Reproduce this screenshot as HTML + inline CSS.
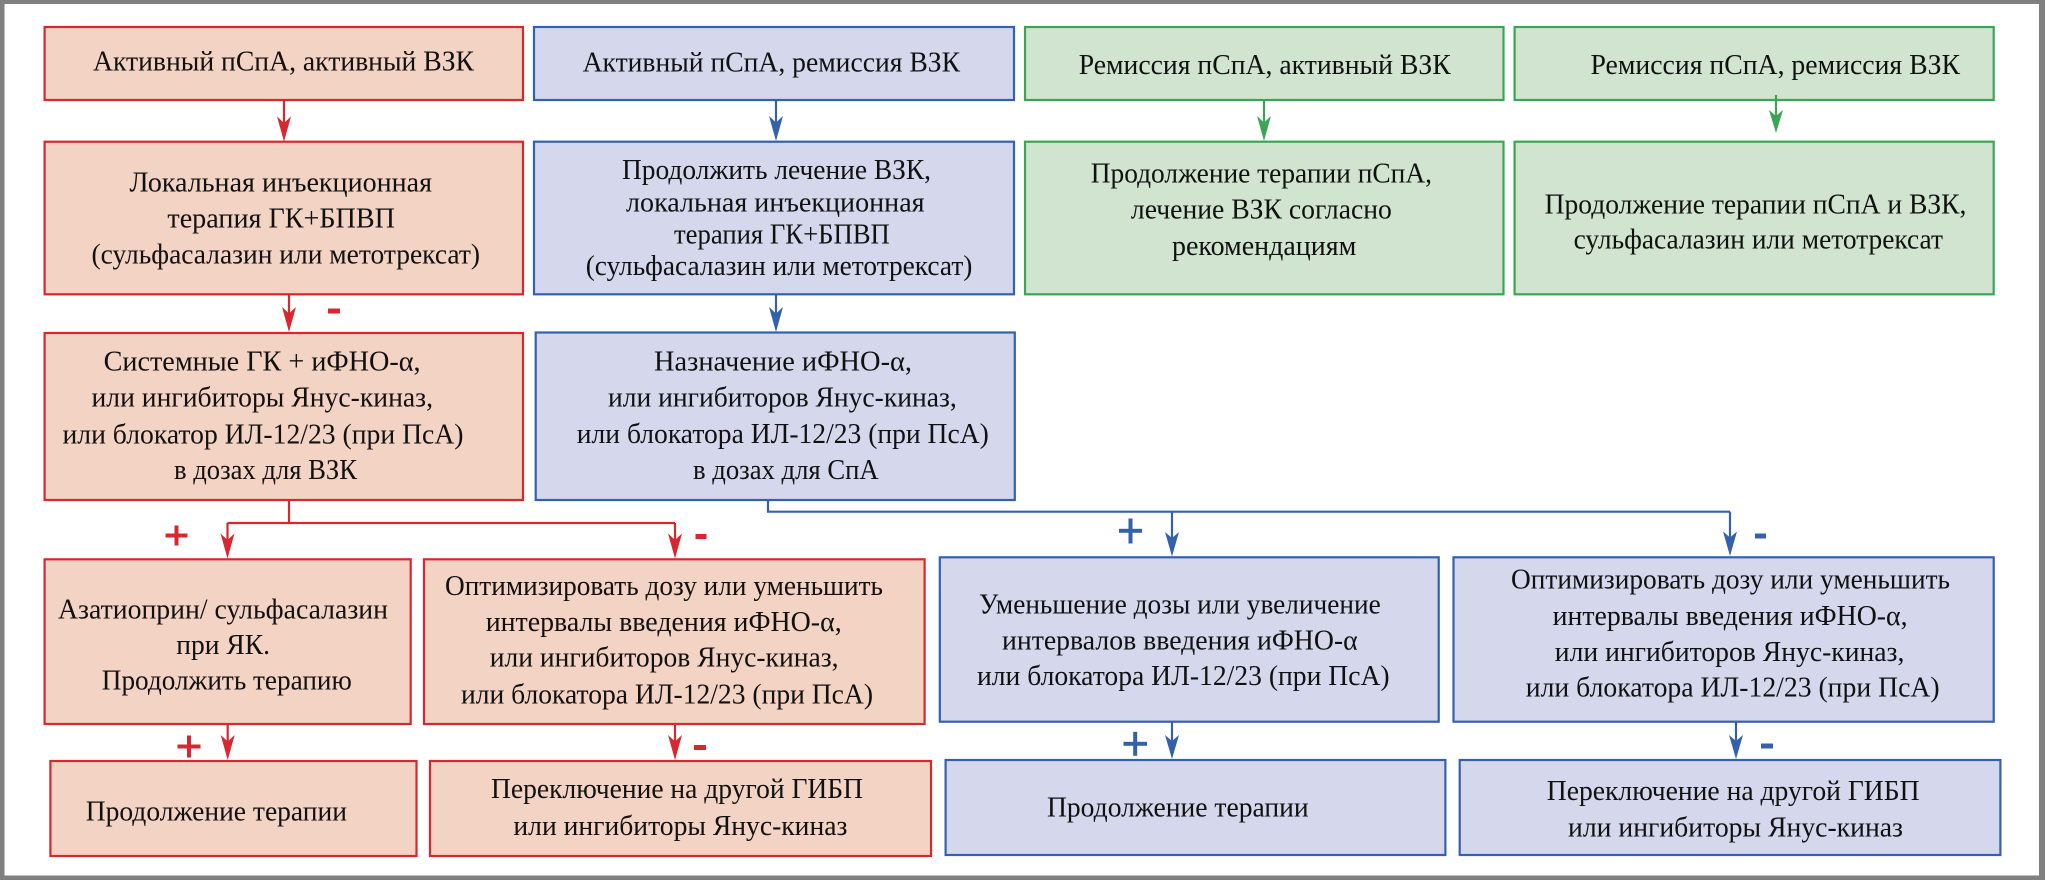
<!DOCTYPE html>
<html>
<head>
<meta charset="utf-8">
<style>
html,body{margin:0;padding:0;background:#fff;}
svg{display:block;}
svg text{font-family:"Liberation Serif","Noto Serif CJK SC",serif;font-size:29px;fill:#111;}
</style>
</head>
<body>
<svg width="2045" height="880" viewBox="0 0 2045 880" xmlns="http://www.w3.org/2000/svg">
  <rect x="0" y="0" width="2045" height="880" fill="#808080"/>
  <rect x="4.5" y="4" width="2034.5" height="871.5" fill="#ffffff"/>

  <!-- Row 1 -->
  <g stroke-width="2.2">
    <rect x="44.6" y="27" width="478.4" height="73" fill="#f3d3c3" stroke="#d7282f"/>
    <rect x="534" y="27" width="480" height="73" fill="#d5d8ec" stroke="#3461ad"/>
    <rect x="1025" y="27" width="478.5" height="73" fill="#d0e4d0" stroke="#3aa655"/>
    <rect x="1514.6" y="27" width="479.1" height="73" fill="#d0e4d0" stroke="#3aa655"/>
    <!-- Row 2 -->
    <rect x="44.6" y="141.7" width="478.4" height="152.6" fill="#f3d3c3" stroke="#d7282f"/>
    <rect x="534" y="141.7" width="480" height="152.6" fill="#d5d8ec" stroke="#3461ad"/>
    <rect x="1025" y="141.7" width="478.5" height="152.6" fill="#d0e4d0" stroke="#3aa655"/>
    <rect x="1514.6" y="141.7" width="479.1" height="152.6" fill="#d0e4d0" stroke="#3aa655"/>
    <!-- Row 3 -->
    <rect x="44.6" y="333" width="478.4" height="167" fill="#f3d3c3" stroke="#d7282f"/>
    <rect x="535.7" y="332.5" width="479.1" height="167.5" fill="#d5d8ec" stroke="#3461ad"/>
    <!-- Row 4 -->
    <rect x="44.6" y="559.3" width="366.1" height="164.7" fill="#f3d3c3" stroke="#d7282f"/>
    <rect x="424" y="559.3" width="500.6" height="164.7" fill="#f3d3c3" stroke="#d7282f"/>
    <rect x="939.8" y="557.3" width="498.9" height="164.4" fill="#d5d8ec" stroke="#3461ad"/>
    <rect x="1453.5" y="557.3" width="540.2" height="164.4" fill="#d5d8ec" stroke="#3461ad"/>
    <!-- Row 5 -->
    <rect x="50.4" y="761" width="366.1" height="95" fill="#f3d3c3" stroke="#d7282f"/>
    <rect x="430" y="761" width="501" height="95" fill="#f3d3c3" stroke="#d7282f"/>
    <rect x="945.6" y="760" width="499.8" height="95" fill="#d5d8ec" stroke="#3461ad"/>
    <rect x="1459.7" y="760" width="540.7" height="95" fill="#d5d8ec" stroke="#3461ad"/>
  </g>

  <!-- Red connectors -->
  <g stroke="#d7282f" stroke-width="2.2" fill="none">
    <line x1="284" y1="101" x2="284" y2="124"/>
    <line x1="289" y1="295" x2="289" y2="315"/>
    <polyline points="289,500 289,523"/>
    <line x1="227.5" y1="523" x2="675" y2="523"/>
    <line x1="227.5" y1="523" x2="227.5" y2="541"/>
    <line x1="675" y1="523" x2="675" y2="541"/>
    <line x1="227.7" y1="724" x2="227.7" y2="743"/>
    <line x1="675" y1="724" x2="675" y2="743"/>
  </g>
  <g fill="#d7282f">
    <polygon points="284,141.5 277,116.5 284,123 291,116.5"/>
    <polygon points="289,332 282,307 289,313.5 296,307"/>
    <polygon points="227.5,558.5 220.5,533.5 227.5,540 234.5,533.5"/>
    <polygon points="675,558.5 668,533.5 675,540 682,533.5"/>
    <polygon points="227.7,760 220.7,735 227.7,741.5 234.7,735"/>
    <polygon points="675,760 668,735 675,741.5 682,735"/>
    <!-- signs -->
    <rect x="328" y="308.5" width="12" height="5"/>
    <rect x="695.5" y="534" width="11" height="5"/>
    <rect x="694" y="745" width="12" height="5"/>
    <rect x="165.5" y="533.5" width="22" height="4"/>
    <rect x="174.5" y="525.5" width="4" height="20"/>
    <rect x="177.5" y="744.5" width="23" height="4"/>
    <rect x="187" y="735.5" width="4" height="22"/>
  </g>

  <!-- Blue connectors -->
  <g stroke="#3461ad" stroke-width="2.2" fill="none">
    <line x1="776" y1="101" x2="776" y2="123"/>
    <line x1="776" y1="295" x2="776" y2="314"/>
    <polyline points="768,500 768,511.7 1730,511.7"/>
    <line x1="1172" y1="511.7" x2="1172" y2="539"/>
    <line x1="1730" y1="511.7" x2="1730" y2="538"/>
    <line x1="1172" y1="722" x2="1172" y2="741"/>
    <line x1="1736" y1="722" x2="1736" y2="741"/>
  </g>
  <g fill="#3461ad">
    <polygon points="776,141 769,116 776,122.5 783,116"/>
    <polygon points="776,332 769,307 776,313.5 783,307"/>
    <polygon points="1172,556.5 1165,532 1172,538 1179,532"/>
    <polygon points="1730,556 1723,531.5 1730,537.5 1737,531.5"/>
    <polygon points="1172,759 1165,735 1172,741 1179,735"/>
    <polygon points="1736,759 1729,735 1736,741 1743,735"/>
    <!-- signs -->
    <rect x="1755" y="533.5" width="11" height="5"/>
    <rect x="1761" y="743.5" width="12" height="5"/>
    <rect x="1119" y="528.8" width="23" height="4"/>
    <rect x="1128.5" y="518.5" width="4" height="25"/>
    <rect x="1123.5" y="741.8" width="23.5" height="4"/>
    <rect x="1133.2" y="731.8" width="4" height="24"/>
  </g>

  <!-- Green connectors -->
  <g stroke="#3aa655" stroke-width="2.2" fill="none">
    <line x1="1264" y1="101" x2="1264" y2="123"/>
    <line x1="1776" y1="95" x2="1776" y2="116"/>
  </g>
  <g fill="#3aa655">
    <polygon points="1264,141 1257,116 1264,122.5 1271,116"/>
    <polygon points="1776,133 1769,110 1776,116 1783,110"/>
  </g>

  <!-- Text -->
  <g font-family="'Liberation Serif', 'Noto Serif CJK SC', serif" font-size="29" fill="#111">
    <!-- Row 1 -->
    <text x="93" y="70.7" textLength="381" lengthAdjust="spacingAndGlyphs">Активный пСпА, активный ВЗК</text>
    <text x="582.6" y="71.7" textLength="377.4" lengthAdjust="spacingAndGlyphs">Активный пСпА, ремиссия ВЗК</text>
    <text x="1078.7" y="74" textLength="372" lengthAdjust="spacingAndGlyphs">Ремиссия пСпА, активный ВЗК</text>
    <text x="1590.5" y="74" textLength="369.5" lengthAdjust="spacingAndGlyphs">Ремиссия пСпА, ремиссия ВЗК</text>

    <!-- Row 2 -->
    <text x="129.5" y="191.7" textLength="302.5" lengthAdjust="spacingAndGlyphs">Локальная инъекционная</text>
    <text x="167.4" y="227.7" textLength="227.6" lengthAdjust="spacingAndGlyphs">терапия ГК+БПВП</text>
    <text x="91.5" y="263.3" textLength="388.5" lengthAdjust="spacingAndGlyphs">(сульфасалазин или метотрексат)</text>

    <text x="622" y="179" textLength="309" lengthAdjust="spacingAndGlyphs">Продолжить лечение ВЗК,</text>
    <text x="626" y="211.7" textLength="298.6" lengthAdjust="spacingAndGlyphs">локальная инъекционная</text>
    <text x="674" y="243.3" textLength="215.8" lengthAdjust="spacingAndGlyphs">терапия ГК+БПВП</text>
    <text x="585.7" y="275" textLength="386.7" lengthAdjust="spacingAndGlyphs">(сульфасалазин или метотрексат)</text>

    <text x="1090.7" y="182.7" textLength="341.3" lengthAdjust="spacingAndGlyphs">Продолжение терапии пСпА,</text>
    <text x="1130.9" y="218.3" textLength="261" lengthAdjust="spacingAndGlyphs">лечение ВЗК согласно</text>
    <text x="1172" y="255" textLength="184.3" lengthAdjust="spacingAndGlyphs">рекомендациям</text>

    <text x="1544.6" y="213.3" textLength="421.8" lengthAdjust="spacingAndGlyphs">Продолжение терапии пСпА и ВЗК,</text>
    <text x="1573.6" y="248.3" textLength="369.4" lengthAdjust="spacingAndGlyphs">сульфасалазин или метотрексат</text>

    <!-- Row 3 -->
    <text x="103.6" y="370.7" textLength="317" lengthAdjust="spacingAndGlyphs">Системные ГК + иФНО-α,</text>
    <text x="91.5" y="406.7" textLength="341.5" lengthAdjust="spacingAndGlyphs">или ингибиторы Янус-киназ,</text>
    <text x="62.5" y="443.3" textLength="401" lengthAdjust="spacingAndGlyphs">или блокатор ИЛ-12/23 (при ПсА)</text>
    <text x="174" y="479" textLength="183" lengthAdjust="spacingAndGlyphs">в дозах для ВЗК</text>

    <text x="654" y="370.7" textLength="258" lengthAdjust="spacingAndGlyphs">Назначение иФНО-α,</text>
    <text x="608" y="406.7" textLength="348.8" lengthAdjust="spacingAndGlyphs">или ингибиторов Янус-киназ,</text>
    <text x="576.8" y="443" textLength="412" lengthAdjust="spacingAndGlyphs">или блокатора ИЛ-12/23 (при ПсА)</text>
    <text x="693" y="479" textLength="185.7" lengthAdjust="spacingAndGlyphs">в дозах для СпА</text>

    <!-- Row 4 -->
    <text x="58" y="618.3" textLength="330" lengthAdjust="spacingAndGlyphs">Азатиоприн/ сульфасалазин</text>
    <text x="176.3" y="654" textLength="93.7" lengthAdjust="spacingAndGlyphs">при ЯК.</text>
    <text x="101.8" y="689.3" textLength="250" lengthAdjust="spacingAndGlyphs">Продолжить терапию</text>

    <text x="445" y="595" textLength="438" lengthAdjust="spacingAndGlyphs">Оптимизировать дозу или уменьшить</text>
    <text x="485.7" y="631" textLength="356" lengthAdjust="spacingAndGlyphs">интервалы введения иФНО-α,</text>
    <text x="489.7" y="666.7" textLength="348.8" lengthAdjust="spacingAndGlyphs">или ингибиторов Янус-киназ,</text>
    <text x="461" y="703.3" textLength="412" lengthAdjust="spacingAndGlyphs">или блокатора ИЛ-12/23 (при ПсА)</text>

    <text x="979" y="613.3" textLength="401.7" lengthAdjust="spacingAndGlyphs">Уменьшение дозы или увеличение</text>
    <text x="1002" y="649.3" textLength="355.7" lengthAdjust="spacingAndGlyphs">интервалов введения иФНО-α</text>
    <text x="977" y="685" textLength="412.6" lengthAdjust="spacingAndGlyphs">или блокатора ИЛ-12/23 (при ПсА)</text>

    <text x="1511" y="588.3" textLength="439" lengthAdjust="spacingAndGlyphs">Оптимизировать дозу или уменьшить</text>
    <text x="1552.6" y="625" textLength="355" lengthAdjust="spacingAndGlyphs">интервалы введения иФНО-α,</text>
    <text x="1554.8" y="661" textLength="349.6" lengthAdjust="spacingAndGlyphs">или ингибиторов Янус-киназ,</text>
    <text x="1525.8" y="696.7" textLength="413.8" lengthAdjust="spacingAndGlyphs">или блокатора ИЛ-12/23 (при ПсА)</text>

    <!-- Row 5 -->
    <text x="85.7" y="820.7" textLength="261.3" lengthAdjust="spacingAndGlyphs">Продолжение терапии</text>
    <text x="491" y="798" textLength="372" lengthAdjust="spacingAndGlyphs">Переключение на другой ГИБП</text>
    <text x="513.4" y="835" textLength="334" lengthAdjust="spacingAndGlyphs">или ингибиторы Янус-киназ</text>
    <text x="1047" y="816.7" textLength="261.6" lengthAdjust="spacingAndGlyphs">Продолжение терапии</text>
    <text x="1546.8" y="800" textLength="372.7" lengthAdjust="spacingAndGlyphs">Переключение на другой ГИБП</text>
    <text x="1568" y="836.7" textLength="335" lengthAdjust="spacingAndGlyphs">или ингибиторы Янус-киназ</text>
  </g>
</svg>
</body>
</html>
